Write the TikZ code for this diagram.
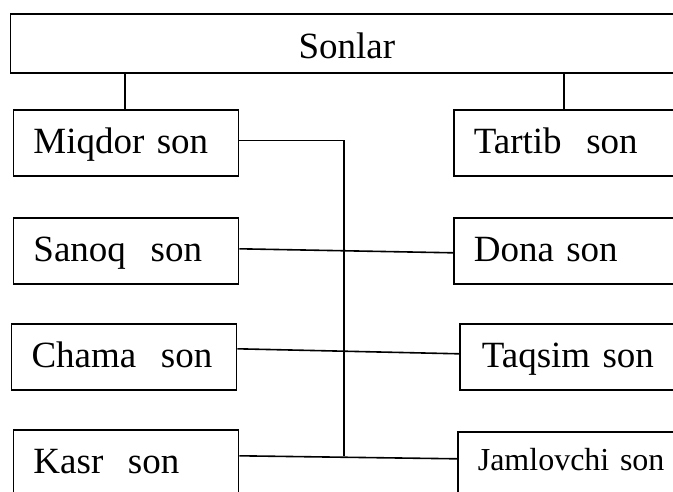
\documentclass[tikz,border=0pt]{standalone}
\usepackage{fontspec}
\setmainfont{Liberation Serif}
\begin{document}
\begin{tikzpicture}[x=1pt,y=-1pt,
  box/.style={draw, line width=1.6pt, anchor=north west, minimum height=66pt,
    inner ysep=0pt, inner xsep=20pt, align=left, text height=30pt, text depth=8pt,
    font=\fontsize{37}{40}\selectfont},
  leftbox/.style={box, text width=185pt},
  rightbox/.style={box, text width=207pt},
  conn/.style={line width=1.6pt}]
\path[use as bounding box] (0,0) rectangle (673,491);
\clip (0,0) rectangle (673,491);
\node[draw, line width=1.6pt, anchor=north west, minimum width=673pt, minimum height=59pt,
  inner sep=0pt, text height=33pt, text depth=4pt,
  font=\fontsize{37}{40}\selectfont] (sonlar) at (9.5,13.3) {Sonlar};
\node[leftbox] (miqdor) at (12.7,109) {Miqdor son};
\node[rightbox] (tartib) at (453,109) {Tartib~~son};
\node[leftbox] (sanoq) at (12.7,217) {Sanoq~~son};
\node[rightbox] (dona) at (453,217) {Dona son};
\node[leftbox] (chama) at (10.7,323) {Chama~~son};
\node[rightbox, inner xsep=22pt, text width=203pt] (taqsim) at (459,323) {Taqsim son};
\node[leftbox] (kasr) at (12.7,429) {Kasr~~son};
\node[rightbox, text height=24pt, text depth=12pt, font=\fontsize{32}{36}\selectfont] (jamlovchi) at (457,431) {Jamlovchi son};
\coordinate (mq) at ([xshift=112.3pt]miqdor.north west);
\coordinate (tt) at ([xshift=111pt]tartib.north west);
\draw[conn] (mq) -- (mq |- sonlar.south);
\draw[conn] (tt) -- (tt |- sonlar.south);
\coordinate (spine) at (344,456);
\draw[conn] ([yshift=2.5pt]miqdor.east) -| (spine);
\draw[conn] ([yshift=2pt]sanoq.east) -- ([yshift=-2pt]dona.west);
\draw[conn] ([yshift=8pt]chama.east) -- ([yshift=3pt]taqsim.west);
\draw[conn] ([yshift=7pt]kasr.east) -- ([yshift=6pt]jamlovchi.west);
\end{tikzpicture}
\end{document}
